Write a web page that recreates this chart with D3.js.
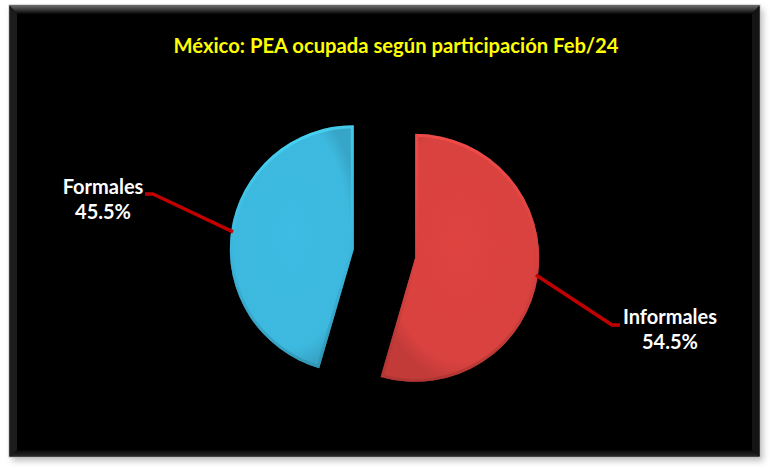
<!DOCTYPE html>
<html>
<head>
<meta charset="utf-8">
<script src="https://cdn.jsdelivr.net/npm/d3@7"></script>
<style>
html,body{margin:0;padding:0;background:#fff;}
svg{display:block;}
</style>
</head>
<body>
<script>
// ---- data ----
const titleText = "México: PEA ocupada según participación Feb/24";
const categories = ["Informales", "Formales"];
const values = [54.5, 45.5];
const valueLabels = ["54.5%", "45.5%"];
const colors = ["#d9423f", "#3db8de"];

// ---- layout ----
const W = 770, H = 470;
const svg = d3.select("body").append("svg").attr("width", W).attr("height", H);
const defs = svg.append("defs");

// frame shadow
const sh = defs.append("filter").attr("id","fshadow").attr("x","-5%").attr("y","-5%").attr("width","110%").attr("height","115%");
sh.append("feDropShadow").attr("dx",3).attr("dy",4).attr("stdDeviation",3).attr("flood-color","#000").attr("flood-opacity",0.25);

// top bevel gradient
const tg = defs.append("linearGradient").attr("id","topbev").attr("x1",0).attr("y1",0).attr("x2",0).attr("y2",1);
tg.append("stop").attr("offset","0%").attr("stop-color","#6a6a6a");
tg.append("stop").attr("offset","100%").attr("stop-color","#060606");
const bg = defs.append("linearGradient").attr("id","botbev").attr("x1",0).attr("y1",0).attr("x2",0).attr("y2",1);
bg.append("stop").attr("offset","0%").attr("stop-color","#060606");
bg.append("stop").attr("offset","100%").attr("stop-color","#2a2a2a");

const fx = 9, fy = 5, fw = 751, fh = 452;
svg.append("rect").attr("x",fx).attr("y",fy).attr("width",fw).attr("height",fh)
  .attr("fill","#060606").attr("filter","url(#fshadow)");
svg.append("rect").attr("x",fx).attr("y",fy).attr("width",fw).attr("height",fh)
  .attr("fill","none").attr("stroke","#bfbfbf").attr("stroke-width",1);
// bevel edges
svg.append("path").attr("d",`M${fx+0.5},${fy+0.5}H${fx+fw-0.5}L${fx+fw-8},${fy+9}H${fx+8}Z`).attr("fill","url(#topbev)");
svg.append("path").attr("d",`M${fx+0.5},${fy+fh-0.5}H${fx+fw-0.5}L${fx+fw-7},${fy+fh-7}H${fx+7}Z`).attr("fill","url(#botbev)");
svg.append("path").attr("d",`M${fx+0.5},${fy+0.5}L${fx+8},${fy+9}V${fy+fh-7}L${fx+0.5},${fy+fh-0.5}Z`).attr("fill","#1c1c1c");
svg.append("path").attr("d",`M${fx+fw-0.5},${fy+0.5}L${fx+fw-8},${fy+9}V${fy+fh-7}L${fx+fw-0.5},${fy+fh-0.5}Z`).attr("fill","#141414");

// title
svg.append("text").attr("x",396).attr("y",53).attr("text-anchor","middle")
  .attr("font-family","Lato, 'Open Sans', sans-serif").attr("font-weight","bold")
  .attr("font-size",20).attr("fill","#ffff00")
  .attr("textLength",445).attr("lengthAdjust","spacingAndGlyphs")
  .text(titleText);

// pie
const cx = 384.5, cy = 253.5, r = 124, explode = 31;
const pie = d3.pie().sort(null).value(d => d)(values);
const arc = d3.arc().innerRadius(0).outerRadius(r);
const offset = d => {
  const a = (d.startAngle + d.endAngle) / 2;
  return [Math.sin(a) * explode, -Math.cos(a) * explode];
};

// bevel gradients per slice
colors.forEach((c, i) => {
  const g = defs.append("radialGradient").attr("id","rg"+i).attr("cx","50%").attr("cy","45%").attr("r","55%");
  g.append("stop").attr("offset","0%").attr("stop-color",d3.color(c).brighter(0.06));
  g.append("stop").attr("offset","85%").attr("stop-color",c);
  g.append("stop").attr("offset","100%").attr("stop-color",d3.color(c).darker(0.3));
  const lg = defs.append("linearGradient").attr("id","lg"+i).attr("x1",0).attr("y1",0).attr("x2",0).attr("y2",1);
  lg.append("stop").attr("offset","0%").attr("stop-color",d3.color(c).brighter(0.6));
  lg.append("stop").attr("offset","50%").attr("stop-color",c);
  lg.append("stop").attr("offset","100%").attr("stop-color",d3.color(c).darker(0.8));
});

const slices = svg.append("g").attr("transform",`translate(${cx},${cy})`)
  .selectAll("g").data(pie).join("g")
  .attr("transform", d => `translate(${offset(d)})`);

slices.append("clipPath").attr("id",(d,i)=>"cp"+i).append("path").attr("d",arc);
slices.append("path").attr("d",arc).attr("fill",(d,i)=>`url(#rg${i})`);
slices.append("path").attr("d",arc).attr("fill","none")
  .attr("stroke",(d,i)=>`url(#lg${i})`).attr("stroke-width",6).attr("stroke-linejoin","round")
  .attr("clip-path",(d,i)=>`url(#cp${i})`).attr("opacity",0.6);

// leader lines & labels
const labelLayout = [
  {elbow:[227.5, 71.5], end:[235.5, 71.5], anchor:"start", tx:238.5, ty:70.5},
  {elbow:[-231.5, -59.5], end:[-239.5, -59.5], anchor:"end", tx:-242, ty:-59.5}
];
const lab = svg.append("g").attr("transform",`translate(${cx},${cy})`);
pie.forEach((d, i) => {
  const L = labelLayout[i];
  const a = (d.startAngle + d.endAngle) / 2;
  const o = offset(d);
  const p0 = [o[0] + Math.sin(a) * (r - 2), o[1] - Math.cos(a) * (r - 2)];
  lab.append("path").attr("d", d3.line()([p0, L.elbow, L.end]))
    .attr("fill","none").attr("stroke","#c00000").attr("stroke-width",3.5).attr("stroke-linejoin","round");
  const t = lab.append("text").attr("font-family","Lato, 'Open Sans', sans-serif").attr("font-weight","bold")
    .attr("font-size",20).attr("fill","#ffffff").attr("text-anchor","middle");
  const w = i === 0 ? 94 : 79;
  const mx = L.anchor === "start" ? L.tx + w / 2 : L.tx - w / 2;
  t.append("tspan").attr("x",mx).attr("y",L.ty).text(categories[i]);
  t.append("tspan").attr("x",mx).attr("y",L.ty + 25).text(valueLabels[i]);
});
</script>
</body>
</html>
